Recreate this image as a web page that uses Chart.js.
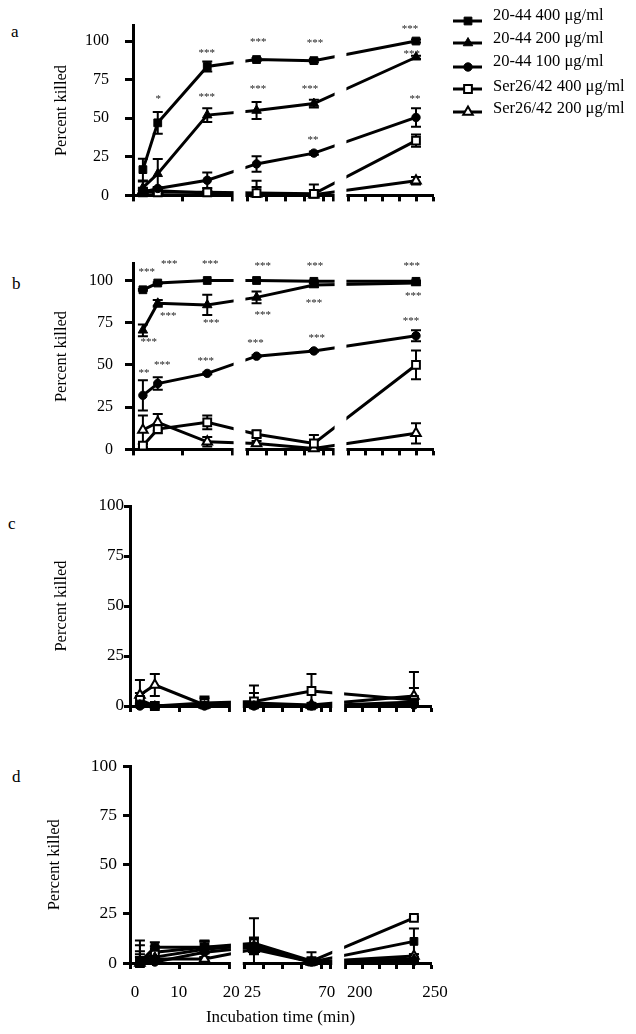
<!DOCTYPE html>
<html>
<head>
<meta charset="utf-8">
<script src="https://cdn.jsdelivr.net/npm/chart.js@4.4.1/dist/chart.umd.min.js"></script>
<style>
  html, body { margin: 0; padding: 0; background: #fff; }
  body { width: 636px; height: 1034px; position: relative; overflow: hidden;
         font-family: "Liberation Serif", "Times New Roman", serif; }
  canvas { position: absolute; left: 0; }
  .tag { position: absolute; font-size: 17px; line-height: 17px; color: #000; }
</style>
</head>
<body>
<div class="tag" style="left:11px;top:23px">a</div>
<div class="tag" style="left:12px;top:275px">b</div>
<div class="tag" style="left:8px;top:515px">c</div>
<div class="tag" style="left:12px;top:768px">d</div>

<script>
// ===============================
// DATA
// ===============================
const times = [2, 5, 15, 30, 60, 240];
const seriesNames = ['20-44 400 μg/ml', '20-44 200 μg/ml', '20-44 100 μg/ml', 'Ser26/42 400 μg/ml', 'Ser26/42 200 μg/ml'];

// broken x axis: 0-20 | 25-70 | 200-250
const segStart = [0, 25, 200];
const segEnd = [20, 70, 250];
const tickTimes = [0, 10, 20, 25, 35, 45, 55, 65, 70, 200, 210, 220, 230, 240, 250];
const labelTimes = [0, 10, 20, 25, 70, 200, 250];
const yTicks = [0, 25, 50, 75, 100];

// rows follow seriesNames, columns follow times
const killA = [
  [16.7, 47, 83.5, 88, 87.3, 100],
  [5, 14, 52, 55, 59.5, 89.5],
  [2, 4.5, 9.8, 20.4, 27.4, 50.5],
  [2, 2, 2, 1.5, 1, 35.5],
  [3, 3, 1.5, 1, 0.5, 9.5]
];
const errA = [
  [7, 7, 3.2, 1, 1, 1],
  [4, 9.5, 4.5, 5.5, 2.5, 1],
  [2, 1, 5, 5, 1, 6],
  [1, 1, 1, 8, 6, 4],
  [2, 2, 1, 4.5, 3, 2.5]
];
// [time, percent, label]
const starsA = [
  [5.1, 64, '*'], [14.9, 93.5, '***'], [14.9, 65, '***'],
  [30.9, 100.5, '***'], [30.7, 70, '***'],
  [60.6, 100, '***'], [58, 70, '***'], [59.5, 37.5, '**'],
  [236.5, 109, '***'], [237.5, 93, '***'], [239.4, 63.5, '**']
];

const killB = [
  [94.5, 98.5, 100, 100, 99.5, 99.5],
  [70.5, 86.5, 85.5, 90, 97.3, 98.5],
  [32, 39, 45, 55.2, 58.3, 67.3],
  [2.2, 12, 16, 9, 3.5, 50],
  [11.5, 16, 4.5, 3.5, 0.5, 9.5]
];
const errB = [
  [0.5, 0.5, 0.3, 0.3, 0.5, 0.5],
  [3.5, 2, 6, 3.5, 1, 0.5],
  [9, 3.7, 0.5, 0.5, 0.5, 3.3],
  [1, 2.5, 4, 2, 5, 8.5],
  [8.5, 5, 2.8, 1.5, 1, 6]
];
const starsB = [
  [2.8, 106, '***'], [3.2, 65, '***'], [2.2, 46.5, '**'],
  [7.3, 111, '***'], [7.1, 80, '***'], [5.9, 51, '***'],
  [15.6, 111, '***'], [15.8, 76, '***'], [14.7, 53.5, '***'],
  [33.2, 110, '***'], [33.2, 81, '***'], [29.5, 64, '***'],
  [60.6, 110, '***'], [60, 88, '***'], [61.5, 67, '***'],
  [237.5, 109.5, '***'], [238.4, 92, '***'], [237, 77, '***']
];

const killC = [
  [1, 0, 0.5, 0.5, 0, 2],
  [0.5, 0, 0, 0, 0, 1],
  [0, 0, 0, 0, 0, 0.5],
  [3, 0, 1.5, 2.3, 7.5, 3],
  [5.5, 10.5, 0.5, 1.5, 0.5, 5]
];
const errC = [
  [0.5, 0, 0.5, 0.5, 0, 1],
  [0.5, 0, 0, 0, 0, 0.5],
  [0, 0, 0, 0, 0, 0.5],
  [10, 0, 3.3, 8, 8.5, 14],
  [1, 5.5, 3.5, 5, 1, 4]
];

const killD = [
  [0.5, 8, 8, 8.5, 0.5, 11],
  [0.5, 3, 7, 9, 0.5, 2],
  [0, 0.5, 5.5, 8, 0.5, 1],
  [0, 5.5, 8, 10, 1, 23],
  [0, 2, 2, 7, 0.5, 3.5]
];
const errD = [
  [11, 2.5, 3, 4, 2, 6.5],
  [8.5, 2, 4.5, 4, 1.5, 1],
  [6, 1, 2.5, 2, 1, 1],
  [4.5, 3, 3, 12.8, 4.5, 0.5],
  [3, 1, 1, 2, 1, 1]
];

// ===============================
// LAYOUT / STYLE
// ===============================
const FONT = '"Liberation Serif", "Times New Roman", serif';
const segPx = [99, 86, 85];
const gapPx = 15;
const markers = [
  { pointStyle: 'rect', radius: 5.5, fill: '#000', bw: 1 },
  { pointStyle: 'triangle', radius: 5.5, fill: '#000', bw: 1 },
  { pointStyle: 'circle', radius: 4.2, fill: '#000', bw: 1 },
  { pointStyle: 'rect', radius: 5.5, fill: '#fff', bw: 2 },
  { pointStyle: 'triangle', radius: 5.5, fill: '#fff', bw: 2 }
];
const legendMarkY = [21, 43, 67, 89, 112];
const legendTextY = [16, 39, 62, 87, 109];
const labelShift = [5, -1, 2, 8, -4, 14, 4];

const panels = [
  { top: 0, padTop: 7, areaH: 200, bottomH: 14, left: 133, right: 433, yMax: 110,
    tickSize: 16, tickLen: 8, tickPad: 16, titlePad: 52,
    values: killA, errors: errA, stars: starsA, legend: true },
  { top: 242, padTop: 14, areaH: 201, bottomH: 14, left: 133, right: 433, yMax: 110,
    tickSize: 16, tickLen: 8, tickPad: 12, titlePad: 52,
    values: killB, errors: errB, stars: starsB },
  { top: 492, padTop: 14, areaH: 200, bottomH: 14, left: 130, right: 431, yMax: 100,
    tickSize: 17, tickLen: 6, tickPad: 0, titlePad: 52,
    values: killC, errors: errC, stars: [] },
  { top: 750, padTop: 14, areaH: 199, bottomH: 71, left: 130, right: 431, yMax: 100,
    tickSize: 17.5, tickLen: 7, tickPad: 6, titlePad: 45,
    values: killD, errors: errD, stars: [], xLabels: true }
];

// time (min) -> position on the continuous broken axis
function toAxis(t) {
  let off = 0;
  for (let i = 0; i < segStart.length; i++) {
    if (t <= segEnd[i] || i === segStart.length - 1) {
      return off + (t - segStart[i]) * segPx[i] / (segEnd[i] - segStart[i]);
    }
    off += segPx[i] + gapPx;
  }
  return off;
}

// ===============================
// PLUGIN: error bars, breaks, stars, legend, x labels
// ===============================
function makePlugin(p) {
  return {
    id: 'panelExtras',
    beforeDatasetsDraw(chart) {
      const { ctx, scales: { x: xs, y: ys } } = chart;
      ctx.save();
      ctx.strokeStyle = '#000';
      ctx.lineWidth = 2;
      p.values.forEach((row, i) => row.forEach((v, j) => {
        const e = p.errors[i][j];
        if (!e) return;
        const x = xs.getPixelForValue(toAxis(times[j]));
        const yt = ys.getPixelForValue(v + e);
        const yb = ys.getPixelForValue(Math.max(0, v - e));
        ctx.beginPath();
        ctx.moveTo(x, yt); ctx.lineTo(x, yb);
        ctx.moveTo(x - 5, yt); ctx.lineTo(x + 5, yt);
        ctx.moveTo(x - 5, yb); ctx.lineTo(x + 5, yb);
        ctx.stroke();
      }));
      ctx.restore();
    },
    afterDatasetsDraw(chart) {
      const { ctx, scales: { x: xs, y: ys } } = chart;
      ctx.save();
      // cut the axis and lines at the breaks
      ctx.fillStyle = '#fff';
      for (let i = 0; i < segEnd.length - 1; i++) {
        const x1 = xs.getPixelForValue(toAxis(segEnd[i])) + 1.6;
        const x2 = xs.getPixelForValue(toAxis(segStart[i + 1])) - 1.6;
        ctx.fillRect(x1, 0, x2 - x1, ys.bottom + 12);
      }
      // significance marks
      ctx.fillStyle = '#222';
      ctx.font = '11px ' + FONT;
      ctx.textAlign = 'center';
      ctx.textBaseline = 'alphabetic';
      p.stars.forEach(([t, v, s]) => {
        ctx.fillText(s, xs.getPixelForValue(toAxis(t)), ys.getPixelForValue(v) + 5);
      });
      ctx.restore();
    },
    afterDraw(chart) {
      const { ctx, scales: { x: xs, y: ys } } = chart;
      ctx.save();
      if (p.legend) {
        ctx.font = '16.5px ' + FONT;
        ctx.textAlign = 'left';
        ctx.textBaseline = 'middle';
        seriesNames.forEach((name, i) => {
          const y = legendMarkY[i];
          ctx.strokeStyle = '#000';
          ctx.lineWidth = 3;
          ctx.beginPath(); ctx.moveTo(453, y); ctx.lineTo(482, y); ctx.stroke();
          const m = markers[i];
          ctx.fillStyle = m.fill;
          ctx.lineWidth = m.bw;
          Chart.helpers.drawPoint(ctx, { pointStyle: m.pointStyle, radius: m.radius, rotation: 0, borderWidth: m.bw }, 468, y);
          ctx.fillStyle = '#000';
          ctx.fillText(name, 493, legendTextY[i]);
        });
      }
      if (p.xLabels) {
        ctx.font = '17px ' + FONT;
        ctx.fillStyle = '#000';
        ctx.textAlign = 'center';
        ctx.textBaseline = 'middle';
        labelTimes.forEach((t, i) => {
          ctx.fillText(String(t), xs.getPixelForValue(toAxis(t)) + labelShift[i], ys.bottom + 30);
        });
      }
      ctx.restore();
    }
  };
}

// ===============================
// RENDER
// ===============================
function renderPanel(p) {
  const canvas = document.createElement('canvas');
  const height = p.padTop + p.areaH + p.bottomH;
  canvas.width = 636;
  canvas.height = height;
  canvas.style.top = p.top + 'px';
  document.body.appendChild(canvas);

  const datasets = p.values.map((row, i) => ({
    label: seriesNames[i],
    data: row.map((v, j) => ({ x: toAxis(times[j]), y: v })),
    borderColor: '#000',
    borderWidth: 3,
    tension: 0,
    clip: false,
    pointStyle: markers[i].pointStyle,
    pointRadius: markers[i].radius,
    pointBackgroundColor: markers[i].fill,
    pointBorderColor: '#000',
    pointBorderWidth: markers[i].bw
  }));

  new Chart(canvas.getContext('2d'), {
    type: 'line',
    data: { datasets },
    options: {
      responsive: false,
      animation: false,
      events: [],
      layout: { padding: { top: p.padTop, right: 636 - p.right, left: 0, bottom: 0 } },
      plugins: { legend: { display: false }, tooltip: { enabled: false } },
      scales: {
        x: {
          type: 'linear',
          min: 0,
          max: toAxis(segEnd[segEnd.length - 1]),
          afterBuildTicks: s => { s.ticks = tickTimes.map(t => ({ value: toAxis(t) })); },
          afterFit: s => { s.height = p.bottomH; },
          grid: { drawOnChartArea: false, drawTicks: true, tickLength: 6, tickWidth: 3, tickColor: '#000', color: '#000' },
          border: { display: true, width: 3, color: '#000' },
          ticks: { display: false },
          title: {
            display: !!p.xLabels,
            text: 'Incubation time (min)',
            color: '#000',
            font: { family: FONT, size: 17 },
            padding: { top: 0, bottom: 6 }
          }
        },
        y: {
          min: 0,
          max: p.yMax,
          afterBuildTicks: s => { s.ticks = yTicks.map(v => ({ value: v })); },
          afterFit: s => { s.width = p.left; },
          grid: { drawOnChartArea: false, drawTicks: true, tickLength: p.tickLen, tickWidth: 3, tickColor: '#000', color: '#000' },
          border: { display: true, width: 3, color: '#000' },
          ticks: { color: '#000', padding: p.tickPad, font: { family: FONT, size: p.tickSize } },
          title: {
            display: true,
            text: 'Percent killed',
            color: '#000',
            font: { family: FONT, size: 16.5 },
            padding: { top: p.titlePad, bottom: 0 }
          }
        }
      }
    },
    plugins: [makePlugin(p)]
  });
}

panels.forEach(renderPanel);
</script>
</body>
</html>
